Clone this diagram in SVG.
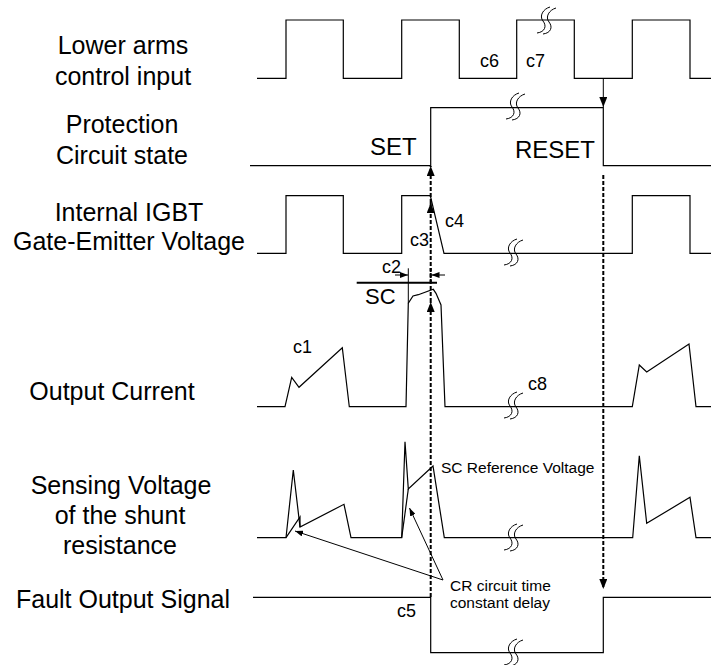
<svg xmlns="http://www.w3.org/2000/svg" width="711" height="665" viewBox="0 0 711 665">
<style>
.lbl{font-family:"Liberation Sans",Arial,sans-serif;font-size:25px;fill:#000;text-anchor:middle}
.big{font-family:"Liberation Sans",Arial,sans-serif;font-size:24px;fill:#000}
.sm{font-family:"Liberation Sans",Arial,sans-serif;font-size:18px;fill:#000}
.note{font-family:"Liberation Sans",Arial,sans-serif;font-size:15.5px;fill:#000}
.w{fill:none;stroke:#000;stroke-width:1.2;stroke-linejoin:miter}
.brk{fill:none;stroke:#000;stroke-width:1}
.dash{fill:none;stroke:#000;stroke-width:2;stroke-dasharray:4,2}
.thin{fill:none;stroke:#000;stroke-width:1}
</style>
<defs>
<g id="brk">
<path class="brk" d="M-9,13 C-1,12 1,6 -3,1 C-7,-4 -3,-11 4,-13"/>
<path class="brk" d="M-3,14 C5,13 7,7 3,2 C-1,-3 3,-10 10,-12"/>
</g>
<marker id="big" viewBox="0 0 10 8" refX="10" refY="4" markerWidth="10" markerHeight="8" markerUnits="userSpaceOnUse" orient="auto">
<path d="M0,0 L10,4 L0,8 z" fill="#000"/>
</marker>
<marker id="small" viewBox="0 0 8 6" refX="8" refY="3" markerWidth="8" markerHeight="6" markerUnits="userSpaceOnUse" orient="auto">
<path d="M0,0 L8,3 L0,6 z" fill="#000"/>
</marker>
</defs>
<rect width="711" height="665" fill="#fff"/>

<g id="control-input">
<text class="lbl" x="123" y="54">Lower arms</text>
<text class="lbl" x="123" y="84.5">control input</text>
<path class="w" d="M257,78.3 H286 V20 H343.3 V78.3 H401.7 V20 H459.3 V78.3 H516.7 V20 H574.3 V78.3 H632.3 V20 H690 V78.3 H711"/>
<use href="#brk" x="546" y="20"/>
<text class="sm" x="480" y="66.7">c6</text>
<text class="sm" x="526" y="67">c7</text>
</g>

<g id="protection-state">
<text class="lbl" x="122" y="133">Protection</text>
<text class="lbl" x="122" y="164">Circuit state</text>
<path class="w" d="M250,165.7 H430.7 V107.7 H603.3 V165.7 H711"/>
<use href="#brk" x="515" y="106"/>
<text class="big" x="370" y="155">SET</text>
<text class="big" x="515" y="158">RESET</text>
</g>

<g id="gate-voltage">
<text class="lbl" x="129" y="221">Internal IGBT</text>
<text class="lbl" x="129" y="250">Gate-Emitter Voltage</text>
<path class="w" d="M257,253.3 H286 V195.7 H343.3 V253.3 H401.7 V195.7 H430.3 L444,253.3 H632.3 V195.7 H690 V253.3 H711"/>
<use href="#brk" x="513" y="252"/>
<text class="sm" x="445" y="226.7">c4</text>
<text class="sm" x="410" y="246">c3</text>
</g>

<g id="output-current">
<text class="lbl" x="112" y="400">Output Current</text>
<path class="w" d="M257,406.7 H285 L291.7,377.3 L299,387.3 L342.3,347.7 L349.3,406.7 H406 L408.3,303.3 L413,296 L418.3,294.7 L433.3,289.3 L436,293.3 L441,305 L445,406.7 H632.3 L639.3,365 L646.7,372 L689,344 L696,406.7 H711"/>
<use href="#brk" x="513" y="405"/>
<text class="sm" x="293" y="353.3">c1</text>
<text class="sm" x="528" y="390">c8</text>
<path d="M356.7,282.7 H437" fill="none" stroke="#000" stroke-width="2"/>
<text x="365" y="304.3" style="font-family:'Liberation Sans',Arial,sans-serif;font-size:22px">SC</text>
<path class="thin" d="M408.3,268.3 V303.3"/>
<path class="thin" d="M395,275 H408" marker-end="url(#small)"/>
<path class="thin" d="M445,275 H431.5" marker-end="url(#small)"/>
<text class="sm" x="382" y="272.7">c2</text>
</g>

<g id="sensing-voltage">
<text class="lbl" x="121" y="494">Sensing Voltage</text>
<text class="lbl" x="120" y="524">of the shunt</text>
<text class="lbl" x="120" y="554">resistance</text>
<path class="w" d="M257,537.7 H286 L293.3,470 L300,527 L344,504.3 L351,537.7 H401.7 L405,441.7 L408.3,489 L433,466 L444.3,537.7 H632.7 L639.3,455.7 L646.7,523.3 L690,497.3 L696,537.7 H711"/>
<path class="w" d="M286,537.7 L300,517 L300,527"/>
<path class="w" d="M401.7,537.7 L408.3,489"/>
<use href="#brk" x="513" y="537"/>
<text class="note" x="441" y="473.3">SC Reference Voltage</text>
</g>

<g id="fault-output">
<text class="lbl" x="123" y="608">Fault Output Signal</text>
<path class="w" d="M253,597.3 H430.7 V652.7 H603.3 V597.3 H711"/>
<use href="#brk" x="513" y="652"/>
<text class="sm" x="397" y="616.7">c5</text>
<text class="note" x="450" y="590.7">CR circuit time</text>
<text class="note" x="450" y="608">constant delay</text>
</g>

<g id="connectors">
<path class="thin" d="M603.3,78.3 V107" marker-end="url(#big)"/>
<path class="dash" d="M430.7,597 V302" marker-end="url(#big)"/>
<path class="dash" d="M430.7,302 V203" marker-end="url(#big)"/>
<path class="dash" d="M430.7,203 V166" marker-end="url(#big)"/>
<path class="dash" d="M430.7,283 V268"/>
<path class="dash" d="M603.3,175 V589" marker-end="url(#big)"/>
<path class="thin" d="M443,580 L295,531" marker-end="url(#small)"/>
<path class="thin" d="M443,580 L409.5,508" marker-end="url(#small)"/>
</g>
</svg>
